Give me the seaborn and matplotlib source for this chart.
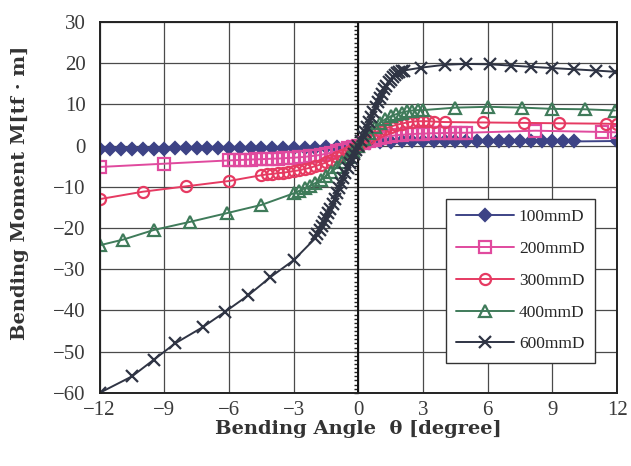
import numpy as np
import matplotlib
matplotlib.use("Agg")
import matplotlib.pyplot as plt
import seaborn as sns

# ---- data (bending angle in degree, moment in tf*m) ----
theta_100 = [-12, -11.5, -11, -10.5, -10, -9.5, -9, -8.5, -8, -7.5, -7, -6.5, -6, -5.5, -5,
             -4.5, -4, -3.5, -3, -2.5, -2, -1.5, -1, -0.5, 0, 0.5, 1, 1.5, 2, 2.5, 3, 3.5,
             4, 4.5, 5, 5.5, 6, 6.5, 7, 7.5, 8, 8.5, 9, 9.5, 10, 12]
m_100 = [-0.9, -0.9, -0.9, -0.8, -0.8, -0.8, -0.8, -0.7, -0.7, -0.7, -0.7, -0.7, -0.6, -0.6,
         -0.6, -0.6, -0.6, -0.5, -0.5, -0.5, -0.5, -0.4, -0.4, -0.3, 0, 0.6, 0.8, 0.9, 1.0,
         1.0, 1.0, 1.0, 1.0, 1.0, 1.0, 1.0, 1.0, 1.0, 1.0, 1.0, 1.0, 1.0, 1.0, 1.0, 1.0, 1.1]

theta_200 = [-12, -9, -6, -5.75, -5.5, -5.25, -5, -4.75, -4.5, -4.25, -4, -3.75, -3.5, -3.25,
             -3, -2.75, -2.5, -2.25, -2, -1.75, -1.5, -1.25, -1, -0.75, -0.5, -0.25, 0, 0.25,
             0.5, 0.75, 1, 1.25, 1.5, 1.75, 2, 2.25, 2.5, 2.75, 3, 3.25, 3.5, 3.75, 4, 4.25,
             4.5, 4.75, 5, 8.2, 11.3, 12]
m_200 = [-5.2, -4.4, -3.6, -3.55, -3.5, -3.45, -3.4, -3.35, -3.3, -3.25, -3.2, -3.15, -3.1,
         -3.0, -2.95, -2.85, -2.75, -2.6, -2.45, -2.25, -2.0, -1.7, -1.4, -1.05, -0.7, -0.35,
         0, 0.5, 1.0, 1.4, 1.8, 2.1, 2.3, 2.5, 2.6, 2.7, 2.8, 2.85, 2.9, 2.95, 3.0, 3.0, 3.05,
         3.05, 3.1, 3.1, 3.1, 3.6, 3.3, 3.2]

theta_300 = [-12, -10, -8, -6, -4.5, -4.25, -4, -3.75, -3.5, -3.25, -3, -2.75, -2.5, -2.25,
             -2, -1.75, -1.5, -1.25, -1, -0.75, -0.5, -0.25, 0, 0.25, 0.5, 0.75, 1, 1.25, 1.5,
             1.75, 2, 2.25, 2.5, 2.75, 3, 3.25, 3.5, 4.0, 5.8, 7.7, 9.3, 11.5, 12]
m_300 = [-13.0, -11.2, -9.9, -8.6, -7.2, -7.0, -6.9, -6.7, -6.6, -6.4, -6.2, -6.0, -5.7, -5.4,
         -5.0, -4.6, -4.1, -3.5, -2.9, -2.2, -1.5, -0.8, 0, 1.0, 1.9, 2.8, 3.5, 4.1, 4.6, 5.0,
         5.3, 5.6, 5.8, 5.9, 5.9, 5.9, 5.8, 5.7, 5.6, 5.5, 5.4, 5.3, 5.2]

theta_400 = [-12, -10.9, -9.5, -7.8, -6.1, -4.5, -3, -2.75, -2.5, -2.25, -2, -1.75, -1.5,
             -1.25, -1, -0.75, -0.5, -0.25, 0, 0.25, 0.5, 0.75, 1, 1.25, 1.5, 1.75, 2, 2.25,
             2.5, 2.75, 3, 4.5, 6.0, 7.6, 9.0, 10.5, 11.9]
m_400 = [-24.2, -22.8, -20.5, -18.5, -16.4, -14.4, -11.6, -11.0, -10.4, -9.8, -9.1, -8.3,
         -7.4, -6.4, -5.3, -4.1, -2.8, -1.4, 0, 1.6, 3.1, 4.4, 5.5, 6.4, 7.1, 7.6, 8.0, 8.3,
         8.5, 8.6, 8.6, 9.2, 9.4, 9.2, 8.9, 8.8, 8.5]

theta_600 = [-12, -10.5, -9.5, -8.5, -7.2, -6.2, -5.1, -4.1, -3.0, -2.0, -1.9, -1.8, -1.7,
             -1.6, -1.5, -1.4, -1.3, -1.2, -1.1, -1.0, -0.9, -0.8, -0.7, -0.6, -0.5, -0.4,
             -0.3, -0.2, -0.1, 0, 0.1, 0.2, 0.3, 0.4, 0.5, 0.6, 0.7, 0.8, 0.9, 1.0, 1.1, 1.2,
             1.3, 1.4, 1.5, 1.6, 1.7, 1.8, 1.9, 2.0, 2.1, 2.9, 4.0, 5.0, 6.1, 7.1, 8.0, 9.0,
             10.0, 11.0, 11.9]
m_600 = [-60.0, -56.0, -52.0, -48.0, -44.0, -40.4, -36.3, -32.0, -27.8, -22.5, -21.5, -20.5,
         -19.5, -18.5, -17.5, -16.4, -15.3, -14.1, -12.9, -11.6, -10.4, -9.1, -7.9, -6.7,
         -5.5, -4.3, -3.2, -2.1, -1.0, 0, 1.1, 2.2, 3.3, 4.5, 5.7, 6.9, 8.1, 9.3, 10.5, 11.6,
         12.6, 13.6, 14.5, 15.3, 16.0, 16.6, 17.1, 17.5, 17.8, 18.0, 18.2, 18.9, 19.6, 19.8,
         19.7, 19.4, 19.1, 18.8, 18.5, 18.2, 17.9]

labels = ["100mmD", "200mmD", "300mmD", "400mmD", "600mmD"]
x_ticks = [-12, -9, -6, -3, 0, 3, 6, 9, 12]
y_ticks = [30, 20, 10, 0, -10, -20, -30, -40, -50, -60]

# styles per series: colour, marker, size, filled
styles = [
    ("#3d4386", "D", 6, True),
    ("#e04a9e", "s", 8, False),
    ("#e63a62", "o", 8, False),
    ("#3f7b5a", "^", 8, False),
    ("#2f3444", "x", 8, False),
]
xs = [theta_100, theta_200, theta_300, theta_400, theta_600]
ys = [m_100, m_200, m_300, m_400, m_600]

sns.set_style("white")
plt.rcParams['font.family'] = ['Liberation Serif', 'DejaVu Serif']

fig = plt.figure(figsize=(6.31, 4.66), dpi=100)
ax = fig.add_axes([0.158, 0.157, 0.820, 0.796])

for lab, x, y, (col, mk, ms, filled) in zip(labels, xs, ys, styles):
    sns.lineplot(x=x, y=y, ax=ax, color=col, linewidth=1.4, marker=mk, markersize=ms,
                 markerfacecolor=col if filled else "none", markeredgecolor=col,
                 markeredgewidth=1.6, label=lab, sort=False, estimator=None)

ax.set_xlim(-12, 12)
ax.set_ylim(-60, 30)
ax.set_xticks(x_ticks)
ax.set_yticks(y_ticks)
ax.set_xticklabels([str(t).replace("-", "\u2212") for t in x_ticks])
ax.set_yticklabels([str(t).replace("-", "\u2212") for t in y_ticks])
ax.tick_params(length=0, labelsize=15, colors="#3a3a3a")
ax.tick_params(axis="y", pad=10)
ax.tick_params(axis="x", pad=6)
ax.grid(True, color="#4a4a4a", linewidth=0.9)
ax.set_axisbelow(True)
for sp in ax.spines.values():
    sp.set_color("#222222")
    sp.set_linewidth(1.4)

# vertical axis through theta = 0 with small ticks
ax.axvline(0, color="#111111", linewidth=1.4, zorder=1.5)
zero_ax = ax.secondary_yaxis(0.5)
zero_ax.set_yticks(np.arange(-60, 31, 1))
zero_ax.set_yticklabels([])
zero_ax.tick_params(direction="in", length=3, width=1, colors="#222222")
zero_ax.spines["left"].set_visible(False)

ax.set_xlabel("Bending Angle  θ [degree]", fontsize=14, fontweight="bold", color="#333333",
              family=["DejaVu Serif"], labelpad=0)
ax.set_ylabel("Bending Moment M[tf · m]", fontsize=14, fontweight="bold", color="#333333",
              family=["DejaVu Serif"])
ax.yaxis.set_label_coords(-0.137, 0.54)

leg = ax.legend(loc="lower right", bbox_to_anchor=(0.957, 0.081), fontsize=12.5,
                frameon=True, fancybox=False, edgecolor="#333333", framealpha=1,
                handlelength=3.3, labelspacing=0.9, borderpad=0.6, handletextpad=0.3,
                borderaxespad=0)
leg.get_frame().set_linewidth(1.0)

fig.savefig("out.png", dpi=100)
